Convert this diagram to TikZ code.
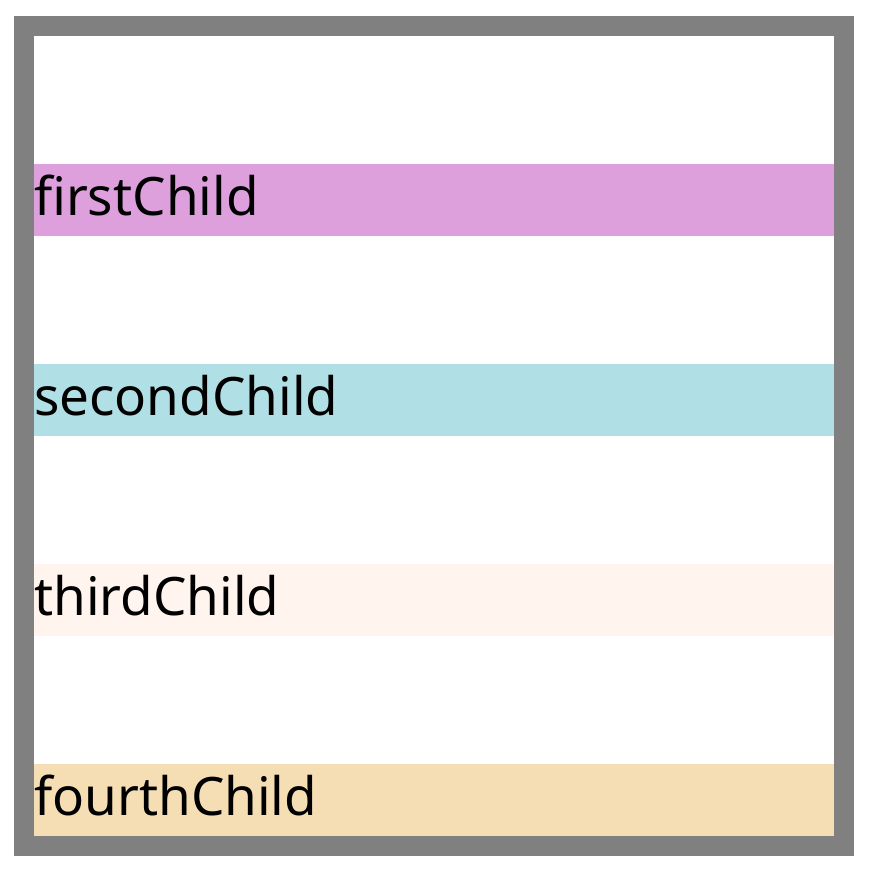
\documentclass[tikz,border=0pt]{standalone}
\usepackage{fontspec}
\setmainfont{Noto Sans}
\definecolor{cplum}{HTML}{DDA0DD}
\definecolor{cpowder}{HTML}{B0E0E6}
\definecolor{cshell}{HTML}{FFF5EE}
\definecolor{cwheat}{HTML}{F5DEB3}
\definecolor{cgray}{HTML}{808080}
\tikzset{
  barbox/.style={minimum width=800pt, minimum height=72pt, inner sep=0pt, outer sep=0pt, anchor=north west},
  label/.style={anchor=base west, inner sep=0pt, font=\fontsize{53}{60}\selectfont}
}
\begin{document}
\begin{tikzpicture}[x=1pt,y=-1pt]
\useasboundingbox (0,0) rectangle (870,872);
\fill[cgray] (14,16) rectangle (854,856);
\fill[white] (34,36) rectangle (834,836);
\node[barbox, fill=cplum] (b1) at (34,164) {};
\node[barbox, fill=cpowder] (b2) at (34,364) {};
\node[barbox, fill=cshell] (b3) at (34,564) {};
\node[barbox, fill=cwheat] (b4) at (34,764) {};
\node[label] (t1) at (34,215) {firstChild};
\node[label] (t2) at (34,415) {secondChild};
\node[label] (t3) at (34,615) {thirdChild};
\node[label] (t4) at (34,815) {fourthChild};
\end{tikzpicture}
\end{document}
